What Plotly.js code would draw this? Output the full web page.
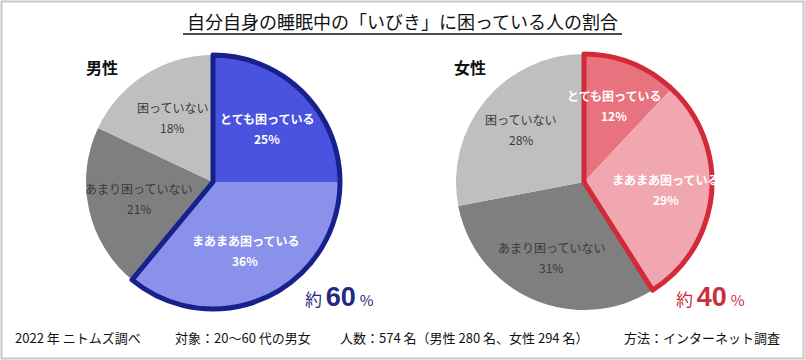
<!DOCTYPE html>
<html>
<head>
<meta charset="utf-8">
<script src="https://cdn.plot.ly/plotly-3.0.1.min.js"></script>
<style>
html,body{margin:0;padding:0;background:#fff;}
#chart{width:805px;height:360px;}
</style>
</head>
<body>
<div id="chart"></div>
<script>
// ---- Data ----
const categories = ["とても困っている", "まあまあ困っている", "あまり困っていない", "困っていない"];
const maleValues = [25, 36, 21, 18];
const femaleValues = [12, 29, 31, 28];
const maleLabel = "男性";
const femaleLabel = "女性";
const maleApprox = "60";
const femaleApprox = "40";
const titleText = "自分自身の睡眠中の「いびき」に困っている人の割合";
const footerTexts = ["2022 年 ニトムズ調べ", "対象：20～60 代の男女", "人数：574 名（男性 280 名、女性 294 名）", "方法：インターネット調査"];

// ---- Styles ----
const W = 805, H = 360;
const JP = "'Noto Sans CJK JP', 'Noto Sans', sans-serif";
const maleColors = ["#4A53E0", "#8A91EB", "#7F7F7F", "#BFBFBF"];
const femaleColors = ["#E8737E", "#F1A7AF", "#7F7F7F", "#BFBFBF"];
const labelColors = ["#ffffff", "#ffffff", "#3a3a3a", "#3a3a3a"];
const maleOutline = "#17208C";
const femaleOutline = "#D22A38";

const pies = [
  {values: maleValues, colors: maleColors, outline: maleOutline, cx: 213, cy: 182, r: 127, lf: 0.6},
  {values: femaleValues, colors: femaleColors, outline: femaleOutline, cx: 584, cy: 182, r: 128, lf: 0.64}
];

function dom(p) {
  return {
    x: [(p.cx - p.r) / W, (p.cx + p.r) / W],
    y: [1 - (p.cy + p.r) / H, 1 - (p.cy - p.r) / H]
  };
}

const traces = [];
const annotations = [];
pies.forEach(p => {
  traces.push({
    type: "pie",
    labels: categories,
    values: p.values,
    sort: false,
    direction: "clockwise",
    rotation: 0,
    domain: dom(p),
    marker: {colors: p.colors, line: {width: 0}},
    textinfo: "none",
    hoverinfo: "label+percent",
    showlegend: false
  });
  const worried = p.values[0] + p.values[1];
  const rest = p.values[2] + p.values[3];
  traces.push({
    type: "pie",
    labels: ["困っている", "困っていない計"],
    values: [worried, rest],
    sort: false,
    direction: "clockwise",
    rotation: 0,
    domain: dom(p),
    marker: {colors: ["rgba(0,0,0,0)", "rgba(0,0,0,0)"], line: {width: [5, 0], color: [p.outline, "rgba(0,0,0,0)"]}},
    textinfo: "none",
    hoverinfo: "skip",
    showlegend: false
  });
  // slice labels computed from data
  const total = p.values.reduce((a, b) => a + b, 0);
  let cum = 0;
  p.values.forEach((v, i) => {
    const mid = (cum + v / 2) / total * 2 * Math.PI;
    cum += v;
    const px = p.cx + Math.sin(mid) * p.r * p.lf;
    const py = p.cy - Math.cos(mid) * p.r * p.lf;
    const bold = i < 2;
    annotations.push({
      xref: "paper", yref: "paper", x: px / W, y: 1 - (py - 10) / H,
      text: bold ? "<b>" + categories[i] + "</b>" : categories[i],
      showarrow: false, xanchor: "center", yanchor: "middle",
      font: {family: JP, size: 12, color: labelColors[i]}
    });
    annotations.push({
      xref: "paper", yref: "paper", x: px / W, y: 1 - (py + 10) / H,
      text: bold ? "<b>" + v + "%</b>" : v + "%",
      showarrow: false, xanchor: "center", yanchor: "middle",
      font: {family: JP, size: 12, color: labelColors[i]}
    });
  });
});

// Title
annotations.push({
  xref: "paper", yref: "paper", x: 402 / W, y: 1 - 21 / H,
  text: titleText, showarrow: false, xanchor: "center", yanchor: "middle",
  font: {family: JP, size: 18, color: "#111"}
});
// Gender labels
annotations.push({xref: "paper", yref: "paper", x: 84 / W, y: 1 - 67 / H, text: "<b>" + maleLabel + "</b>",
  showarrow: false, xanchor: "left", yanchor: "middle", font: {family: JP, size: 16, color: "#111"}});
annotations.push({xref: "paper", yref: "paper", x: 452 / W, y: 1 - 67 / H, text: "<b>" + femaleLabel + "</b>",
  showarrow: false, xanchor: "left", yanchor: "middle", font: {family: JP, size: 16, color: "#111"}});
// Approx labels
function approx(num, color, x) {
  return {
    xref: "paper", yref: "paper", x: x / W, y: 1 - 297 / H,
    text: "約 <b><span style=\"font-size:27px;font-family:'Liberation Sans',Arial,sans-serif\">" + num + "</span></b> <span style=\"font-size:15px\">%</span>",
    showarrow: false, xanchor: "left", yanchor: "middle",
    font: {family: JP, size: 17, color: color}
  };
}
annotations.push(approx(maleApprox, "#1F2A80", 303));
annotations.push(approx(femaleApprox, "#C8303D", 674));
// Footer
const footerX = [13, 173, 338, 622];
footerTexts.forEach((t, i) => {
  annotations.push({xref: "paper", yref: "paper", x: footerX[i] / W, y: 1 - 337 / H, text: t,
    showarrow: false, xanchor: "left", yanchor: "middle", font: {family: JP, size: 13, color: "#111"}});
});

const layout = {
  width: W, height: H,
  margin: {l: 0, r: 0, t: 0, b: 0},
  paper_bgcolor: "#ffffff",
  plot_bgcolor: "#ffffff",
  showlegend: false,
  annotations: annotations,
  shapes: [
    {type: "rect", xref: "paper", yref: "paper", x0: 1.5 / W, x1: 1 - 1.5 / W, y0: 1.5 / H, y1: 1 - 1.5 / H,
      line: {color: "#C8C8C8", width: 2}, fillcolor: "rgba(0,0,0,0)"},
    {type: "line", xref: "paper", yref: "paper", x0: 183 / W, x1: 622 / W, y0: 1 - 34 / H, y1: 1 - 34 / H,
      line: {color: "#111", width: 1.5}}
  ]
};

Plotly.newPlot("chart", traces, layout, {displayModeBar: false, staticPlot: false});
</script>
</body>
</html>
